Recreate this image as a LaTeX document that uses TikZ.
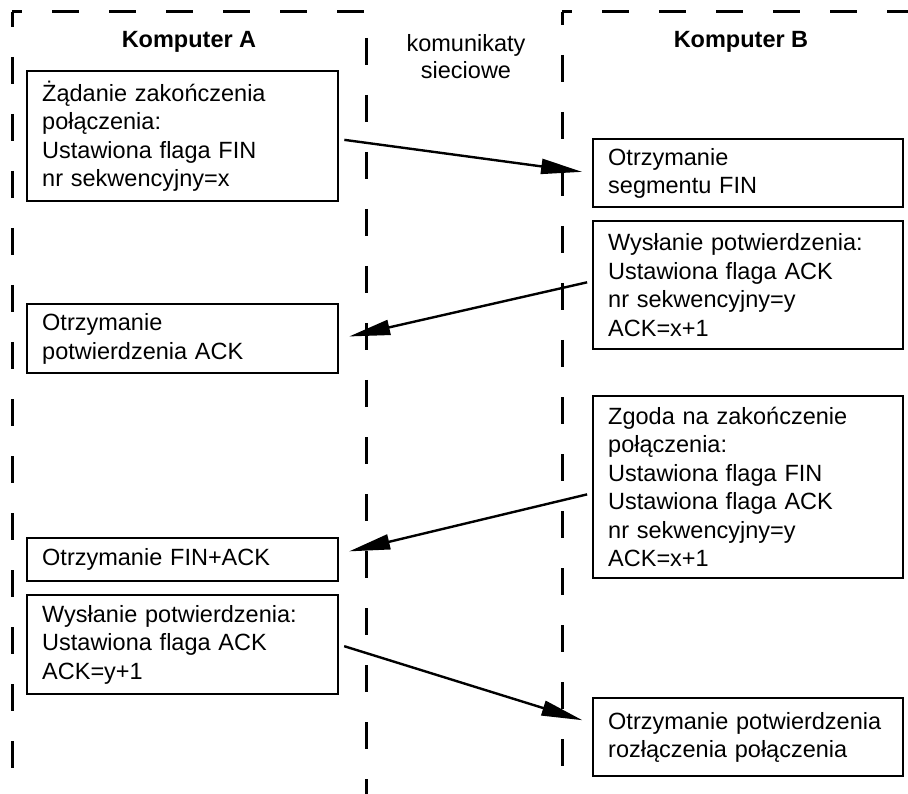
\documentclass[tikz,border=0pt]{standalone}
\usepackage{fontspec}
\setmainfont{Liberation Sans}
\usetikzlibrary{arrows.meta}
\begin{document}
\begin{tikzpicture}[x=1pt, y=-1pt,
  every node/.style={font=\fontsize{23.5}{28.5}\selectfont},
  msgbox/.style={draw, line width=2.4pt, anchor=north west, align=left,
    inner xsep=15pt, inner ysep=0pt},
  head/.style={font=\fontsize{23.5}{28.5}\selectfont\bfseries},
  lane/.style={line width=3pt, dash pattern=on 27pt off 30pt},
  msg/.style={line width=2.4pt, -{Triangle[length=41pt, width=15pt]},
    shorten <=5pt, shorten >=10pt}]
  \useasboundingbox (0,0) rectangle (908,794);

  % lane borders
  \draw[lane, dash phase=12pt] (12,12) -- (12,770);
  \draw[lane, dash phase=17pt] (12,12) -- (366,12);
  \draw[lane, dash phase=31pt] (366,12) -- (366,794);
  \draw[lane, dash phase=17pt] (562,12) -- (908,12);
  \draw[lane, dash phase=14pt] (562,12) -- (562,770);

  % lane headings
  \node[head] (ha) at (189,42) {Komputer A};
  \node[align=center, font=\fontsize{23.5}{27}\selectfont] (hn) at (466,57) {komunikaty\\sieciowe};
  \node[head] (hb) at (741,42) {Komputer B};

  % Komputer A
  \node[msgbox, text width=281pt, minimum width=311pt, minimum height=130pt] (a1) at (26,70)
    {Żądanie zakończenia\\połączenia:\\Ustawiona flaga FIN\\nr sekwencyjny=x};
  \node[msgbox, text width=281pt, minimum width=311pt, minimum height=69pt] (a2) at (26,303)
    {Otrzymanie\\potwierdzenia ACK};
  \node[msgbox, text width=281pt, minimum width=311pt, minimum height=43pt] (a3) at (26,537)
    {Otrzymanie FIN+ACK};
  \node[msgbox, text width=281pt, minimum width=311pt, minimum height=99pt] (a4) at (26,594)
    {Wysłanie potwierdzenia:\\Ustawiona flaga ACK\\ACK=y+1};

  % Komputer B
  \node[msgbox, text width=280pt, minimum width=310pt, minimum height=68pt] (b1) at (592,138)
    {Otrzymanie\\segmentu FIN};
  \node[msgbox, text width=280pt, minimum width=310pt, minimum height=128pt] (b2) at (592,220)
    {Wysłanie potwierdzenia:\\Ustawiona flaga ACK\\nr sekwencyjny=y\\ACK=x+1};
  \node[msgbox, text width=280pt, minimum width=310pt, minimum height=182pt] (b3) at (592,395)
    {Zgoda na zakończenie\\połączenia:\\Ustawiona flaga FIN\\Ustawiona flaga ACK\\nr sekwencyjny=y\\ACK=x+1};
  \node[msgbox, text width=280pt, minimum width=310pt, minimum height=78pt] (b4) at (592,697)
    {Otrzymanie potwierdzenia\\rozłączenia połączenia};

  % segments exchanged
  \draw[msg] ([yshift=-3pt]a1.east) -- (b1.west);
  \draw[msg] ([yshift=4pt]b2.west) -- (a2.east);
  \draw[msg] ([yshift=-6pt]b3.west) -- ([yshift=6pt]a3.east);
  \draw[msg] (a4.east) -- ([yshift=14pt]b4.west);
\end{tikzpicture}
\end{document}
